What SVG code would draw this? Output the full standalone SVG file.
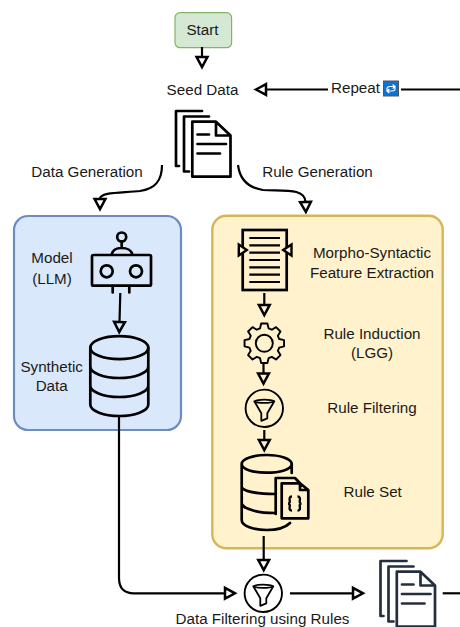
<svg xmlns="http://www.w3.org/2000/svg" xmlns:xlink="http://www.w3.org/1999/xlink" width="460" height="627" viewBox="0 0 460 627">
<style>
text{font-family:"Liberation Sans",Arial,sans-serif;font-size:15.2px;fill:#1a1a1a;text-anchor:middle}
.c{fill:none;stroke:#000;stroke-width:2.2;marker-end:url(#h)}
.p{fill:none;stroke:#000;stroke-width:2.2}
.i{fill:none;stroke:#000;stroke-width:2.7;stroke-linejoin:round;stroke-linecap:round}
.d{fill:none;stroke:#232f3e;stroke-width:2.7;stroke-linejoin:round;stroke-linecap:round}
</style>
<defs>
<marker id="h" markerUnits="userSpaceOnUse" markerWidth="16" markerHeight="18" viewBox="0 0 16 18" refX="1" refY="9" orient="auto" overflow="visible">
<path d="M1,3.6 L1,14.4 L11,9 Z" fill="none" stroke="#000" stroke-width="2.5"/>
</marker>
<g id="funnel"><circle r="18.7" cx="0" cy="0" fill="none" stroke="#000" stroke-width="1.9"/><path d="M-10,-7 C-6,-9.2 6,-9.2 10,-7 C6,-4.8 -6,-4.8 -10,-7 Z M-10,-7 L-3,5 L-3,12.5 L3,10 L3,5 L10,-7" fill="none" stroke="#000" stroke-width="1.8" stroke-linejoin="round"/></g>
<g id="docs"><path d="M202,111 H176 V166 H179 M209,116.5 H184 V171.5 H189 M192.3,121.7 H216 L230.5,135.5 V176.7 H192.3 Z M216,122 V135.5 H230.5 M197.5,134.5 H209 M197.5,144 H226 M197.5,153.5 H220"/></g>
</defs>

<g id="start"><rect x="175" y="12.7" width="56.6" height="35" rx="5" fill="#d5e8d4" stroke="#82b366" stroke-width="1.2"/><text x="202.5" y="35">Start</text></g>
<g id="seed-data"><text x="202.5" y="94.5">Seed Data</text><use xlink:href="#docs" class="i"/></g>
<g id="repeat"><text x="355.5" y="93">Repeat</text><rect x="383.5" y="81" width="15" height="15" fill="#0b72d6" stroke="#555" stroke-width="1"/><path d="M387,90 Q386.5,86.5 390,86.5 H395 M393,84.8 L395,86.5 L393,88.2 M395,87.5 Q395.5,91 392,91 H387 M389,89.3 L387,91 L389,92.7" fill="none" stroke="#fff" stroke-width="1.2" stroke-linecap="round"/></g>
<g id="label-data-generation"><text x="87" y="177">Data Generation</text></g>
<g id="label-rule-generation"><text x="317.5" y="177">Rule Generation</text></g>

<g id="data-box"><rect x="14" y="216" width="167" height="214" rx="14" fill="#dae8fc" stroke="#6c8ebf" stroke-width="2.2"/></g>
<g id="model">
<text x="52" y="263">Model</text><text x="52" y="283.5">(LLM)</text>
<g class="i"><rect x="92" y="255" width="59" height="30.7" rx="1.5"/><circle cx="106.7" cy="271.3" r="6"/><circle cx="136" cy="271.3" r="6"/><circle cx="121.7" cy="237" r="4.5"/><path d="M121.7,241.5 V248 M111.7,254.5 C112.5,250 117,248 121.7,248 C126.5,248 131.5,250 132.3,254.5 M112.7,286 V292.5 M129.3,286 V292.5"/></g>
</g>
<g id="synthetic-data">
<text x="51.7" y="372">Synthetic</text><text x="51.7" y="391">Data</text>
<g class="i"><ellipse cx="119.3" cy="347.7" rx="29" ry="11.5"/><path d="M90.3,347.7 V404.5 C90.3,411 104,416 119.3,416 C134.6,416 148.3,411 148.3,404.5 V347.7 M90.3,366.5 C90.3,373 104,378 119.3,378 C134.6,378 148.3,373 148.3,366.5 M90.3,385.5 C90.3,392 104,397 119.3,397 C134.6,397 148.3,392 148.3,385.5"/></g>
</g>

<g id="rule-box"><rect x="212.3" y="215.7" width="230.4" height="332.6" rx="14" fill="#fff2cc" stroke="#d6b656" stroke-width="2.4"/></g>
<g id="feature-extraction">
<rect x="242.7" y="230" width="44" height="60" fill="none" stroke="#000" stroke-width="2.7"/>
<path d="M249.3,238 H280 M249.3,245.3 H280 M249.3,252.7 H280 M249.3,260 H280 M249.3,267.3 H280 M249.3,274.7 H280 M249.3,282 H280" stroke="#000" stroke-width="2.2" fill="none"/>
<path d="M238.8,244.5 V255.5 L246.8,250 Z M291.5,244.5 V255.5 L283.2,250 Z" fill="#fff2cc" stroke="#000" stroke-width="2.4"/>
<text x="372" y="258">Morpho-Syntactic</text><text x="372" y="278">Feature Extraction</text>
</g>
<g id="rule-induction">
<g transform="translate(264.3,343.3)"><path d="M14.9,-4.27 L19.75,-3.13 L19.75,3.13 L14.9,4.27 L13.56,7.51 L16.18,11.76 L11.76,16.18 L7.51,13.56 L4.27,14.9 L3.13,19.75 L-3.13,19.75 L-4.27,14.9 L-7.51,13.56 L-11.76,16.18 L-16.18,11.76 L-13.56,7.51 L-14.9,4.27 L-19.75,3.13 L-19.75,-3.13 L-14.9,-4.27 L-13.56,-7.51 L-16.18,-11.76 L-11.76,-16.18 L-7.51,-13.56 L-4.27,-14.9 L-3.13,-19.75 L3.13,-19.75 L4.27,-14.9 L7.51,-13.56 L11.76,-16.18 L16.18,-11.76 L13.56,-7.51 Z" fill="none" stroke="#000" stroke-width="1.9" stroke-linejoin="round"/><circle r="8.5" fill="none" stroke="#000" stroke-width="1.9"/></g>
<text x="372" y="339">Rule Induction</text><text x="372" y="358">(LGG)</text>
</g>
<g id="rule-filtering"><use xlink:href="#funnel" x="264.3" y="408.3"/><text x="372" y="413">Rule Filtering</text></g>
<g id="rule-set">
<g class="i"><path d="M241.7,464 C241.7,458.5 254,455 266.7,455 C279.5,455 291.7,458.5 291.7,464 C291.7,469.5 279.5,472.7 266.7,472.7 C254,472.7 241.7,469.5 241.7,464 V520 C241.7,526 254,530 266.7,530 C276,530 285,528 290,523 M291.7,464 V473 M241.7,487.5 C245,492 260,494 275,494 M241.7,504 C245,510 260,513 275,513"/>
<path d="M275.7,514 V478 H295 L300,483.3 M281.7,483.3 H300 L308.3,490 V518.3 H281.7 Z M300,483.3 V490 H308.3"/></g>
<path d="M292,496.5 C288.5,496.5 289.8,500 289.8,502 C289.8,503 288.5,503.6 288,503.6 C288.5,503.6 289.8,504.2 289.8,505.2 C289.8,507.5 288.5,510.7 292,510.7 M297.5,496.5 C301,496.5 299.7,500 299.7,502 C299.7,503 301,503.6 301.5,503.6 C301,503.6 299.7,504.2 299.7,505.2 C299.7,507.5 301,510.7 297.5,510.7" fill="none" stroke="#000" stroke-width="2.3"/>
<text x="372.7" y="497">Rule Set</text>
</g>

<g id="data-filtering"><use xlink:href="#funnel" x="263.3" y="593.3"/><text x="262.5" y="624">Data Filtering using Rules</text></g>
<g id="filtered-data"><use xlink:href="#docs" class="d" transform="translate(204.5,450)"/></g>

<g id="connectors">
<path class="c" d="M202,47 V57"/>
<path class="c" d="M460,89.5 H401 M328,89.5 H266"/>
<path class="c" d="M238,165 C240,181 250,188 263,190 C285,191 305,188 305.5,202"/>
<path class="c" d="M162,165 C162,181 155,189 140,191 C120,193 100,192 100,199"/>
<path class="c" d="M120.3,293 L119.5,322"/>
<path class="c" d="M264.3,293 V305"/>
<path class="c" d="M263.5,364 V373.5"/>
<path class="c" d="M264.3,430 V440"/>
<path class="c" d="M263.7,536 V560"/>
<path class="c" d="M119,416 V578 Q119,593.3 134,593.3 H225"/>
<path class="c" d="M290,593.3 H353"/>
<path class="p" d="M442.7,593.3 H460"/>
</g>
</svg>
